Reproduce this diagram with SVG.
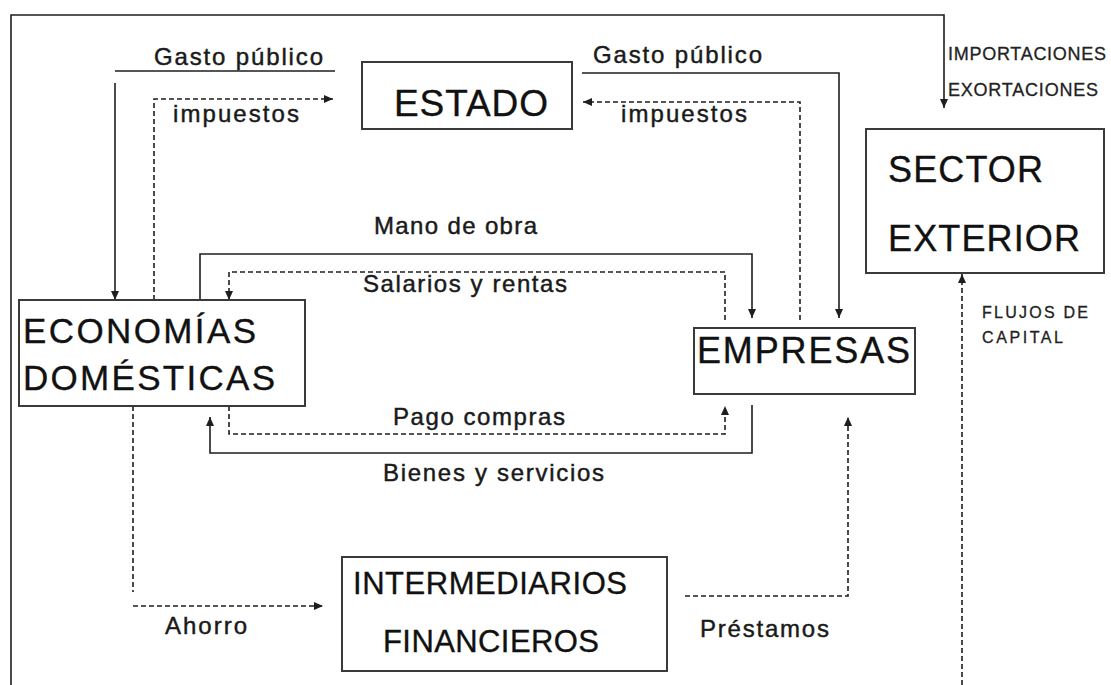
<svg xmlns="http://www.w3.org/2000/svg" width="1111" height="685" viewBox="0 0 1111 685">
<style>
  .box { fill: #ffffff; stroke: #3a3a3a; stroke-width: 2; }
  .ln { fill: none; stroke: #1e1e1e; stroke-width: 1.6; }
  .dash { fill: none; stroke: #1e1e1e; stroke-width: 1.6; stroke-dasharray: 5 3; }
  text { font-family: "Liberation Sans", Arial, sans-serif; }
  .lbl { font-size: 24px; fill: #1a1a1a; stroke: #1a1a1a; stroke-width: 0.45; }
  .big { fill: #111111; stroke: #111111; stroke-width: 0.35; }
  .sm { fill: #222222; stroke: #222222; stroke-width: 0.3; }
</style>
<defs>
  <marker id="arr" markerUnits="userSpaceOnUse" markerWidth="9" markerHeight="8" refX="9" refY="4" orient="auto">
    <path d="M0,0 L9,4 L0,8 z" fill="#1e1e1e" stroke="none"/>
  </marker>
</defs>
<rect x="0" y="0" width="1111" height="685" fill="#ffffff"/>

<g id="connectors">
  <path id="frame-importaciones" class="ln" d="M11,685 V15 H944 V108" marker-end="url(#arr)"/>
  <path id="gasto-publico-l-top" class="ln" d="M115,71 H335"/>
  <path id="gasto-publico-l" class="ln" d="M115,83 V300" marker-end="url(#arr)"/>
  <path id="impuestos-l" class="dash" d="M154,300 V99 H333" marker-end="url(#arr)"/>
  <path id="gasto-publico-r" class="ln" d="M582,73 H839 V318" marker-end="url(#arr)"/>
  <path id="impuestos-r" class="dash" d="M800,320 V102 H583" marker-end="url(#arr)"/>
  <path id="mano-de-obra" class="ln" d="M200,300 V254 H752 V318" marker-end="url(#arr)"/>
  <path id="salarios" class="dash" d="M725,320 V272 H229 V300" marker-end="url(#arr)"/>
  <path id="pago-compras" class="dash" d="M229,406 V434 H725 V406" marker-end="url(#arr)"/>
  <path id="bienes" class="ln" d="M752,405 V453 H210 V417" marker-end="url(#arr)"/>
  <path id="ahorro-v" class="dash" d="M133,406 V592"/>
  <path id="ahorro" class="dash" d="M133,606 H323" marker-end="url(#arr)"/>
  <path id="prestamos" class="dash" d="M685,596 H848 V417" marker-end="url(#arr)"/>
  <path id="flujos" class="dash" d="M962,685 V274" marker-end="url(#arr)"/>

  <text class="lbl" x="154" y="65" textLength="169" lengthAdjust="spacing">Gasto público</text>
  <text class="lbl" x="173" y="122" textLength="126" lengthAdjust="spacing">impuestos</text>
  <text class="lbl" x="593" y="63" textLength="169" lengthAdjust="spacing">Gasto público</text>
  <text class="lbl" x="621" y="122" textLength="126" lengthAdjust="spacing">impuestos</text>
  <text class="lbl" x="374" y="234" textLength="163" lengthAdjust="spacing">Mano de obra</text>
  <text class="lbl" x="363" y="292" textLength="204" lengthAdjust="spacing">Salarios y rentas</text>
  <text class="lbl" x="393" y="425" textLength="172" lengthAdjust="spacing">Pago compras</text>
  <text class="lbl" x="383" y="481" textLength="221" lengthAdjust="spacing">Bienes y servicios</text>
  <text class="lbl" x="165" y="634" textLength="82" lengthAdjust="spacing">Ahorro</text>
  <text class="lbl" x="700" y="637" textLength="129" lengthAdjust="spacing">Préstamos</text>
  <text class="sm" x="948" y="60" style="font-size:18px" textLength="158" lengthAdjust="spacing">IMPORTACIONES</text>
  <text class="sm" x="948" y="96" style="font-size:18px" textLength="150" lengthAdjust="spacing">EXORTACIONES</text>
  <text class="sm" x="982" y="318" style="font-size:16px" textLength="106" lengthAdjust="spacing">FLUJOS DE</text>
  <text class="sm" x="982" y="343" style="font-size:16px" textLength="81" lengthAdjust="spacing">CAPITAL</text>
</g>

<g id="estado">
  <rect class="box" x="362" y="62" width="210" height="67"/>
  <text class="big" x="394" y="116" style="font-size:37px" textLength="154" lengthAdjust="spacing">ESTADO</text>
</g>

<g id="sector-exterior">
  <rect class="box" x="866" y="129" width="238" height="144"/>
  <text class="big" x="888" y="182" style="font-size:36px" textLength="155" lengthAdjust="spacing">SECTOR</text>
  <text class="big" x="888" y="251" style="font-size:36px" textLength="192" lengthAdjust="spacing">EXTERIOR</text>
</g>

<g id="economias-domesticas">
  <rect class="box" x="19" y="300" width="286" height="106"/>
  <text class="big" x="23" y="343" style="font-size:35px" textLength="233" lengthAdjust="spacing">ECONOMÍAS</text>
  <text class="big" x="23" y="390" style="font-size:35px" textLength="252" lengthAdjust="spacing">DOMÉSTICAS</text>
</g>

<g id="empresas">
  <rect class="box" x="694" y="328" width="221" height="66"/>
  <text class="big" x="697" y="363" style="font-size:36px" textLength="213" lengthAdjust="spacing">EMPRESAS</text>
</g>

<g id="intermediarios-financieros">
  <rect class="box" x="342" y="557" width="325" height="114"/>
  <text class="big" x="353" y="594" style="font-size:31px" textLength="274" lengthAdjust="spacing">INTERMEDIARIOS</text>
  <text class="big" x="383" y="652" style="font-size:31px" textLength="216" lengthAdjust="spacing">FINANCIEROS</text>
</g>
</svg>
